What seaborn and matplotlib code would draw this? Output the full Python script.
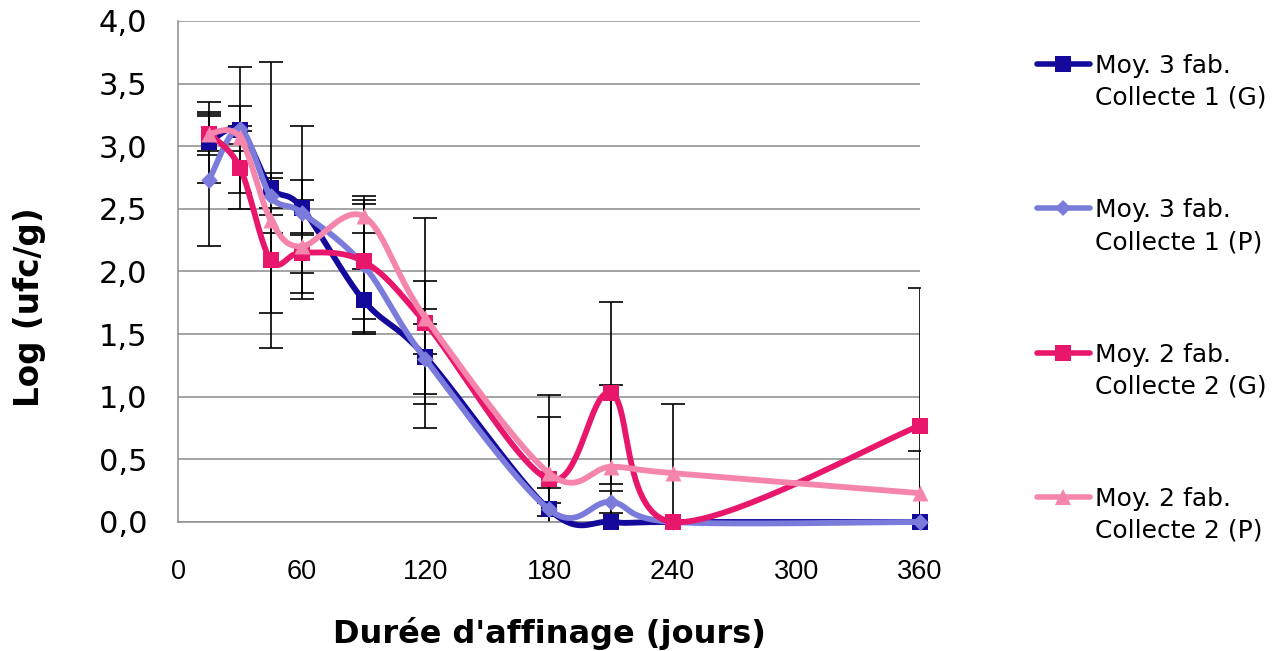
import numpy as np
import matplotlib
matplotlib.use("Agg")
import matplotlib.pyplot as plt
import seaborn as sns
from matplotlib.lines import Line2D
from matplotlib.ticker import FuncFormatter

# durée d'affinage (jours)
days = [15, 30, 45, 60, 90, 120, 180, 210, 240, 360]

# Log (ufc/g), moyennes et écarts-types
g1 = [3.03, 3.13, 2.67, 2.51, 1.77, 1.32, 0.10, 0.00, 0.00, 0.00]
g1_err = [0.32, 0.50, 1.00, 0.22, 0.25, 0.38, 0.17, 0.00, 0.00, 0.00]
p1 = [2.73, 3.14, 2.60, 2.47, 2.05, 1.30, 0.10, 0.16, 0.00, 0.00]
p1_err = [0.53, 0.18, 0.15, 0.69, 0.55, 0.28, 0.05, 0.09, 0.00, 0.00]
g2 = [3.10, 2.83, 2.09, 2.15, 2.08, 1.59, 0.34, 1.03, 0.00, 0.77]
g2_err = [0.17, 0.33, 0.70, 0.16, 0.46, 0.84, 0.50, 0.73, 0.00, 1.10]
p2 = [3.10, 3.07, 2.41, 2.20, 2.44, 1.63, 0.39, 0.44, 0.39, 0.23]
p2_err = [0.14, 0.05, 0.10, 0.37, 0.13, 0.29, 0.62, 0.65, 0.55, 0.34]

labels = [("Moy. 3 fab.", "Collecte 1 (G)"),
          ("Moy. 3 fab.", "Collecte 1 (P)"),
          ("Moy. 2 fab.", "Collecte 2 (G)"),
          ("Moy. 2 fab.", "Collecte 2 (P)")]
colors = ["#15099c", "#7b7bdc", "#e8176b", "#f585ad"]
markers = ["s", "D", "s", "^"]
msizes = [11.5, 8.5, 11.5, 11.5]

series = [(g1, g1_err), (p1, p1_err), (g2, g2_err), (p2, p2_err)]


def excel_smooth(x, y, sx=742 / 360, sy=501 / 4, n=40):
    # courbe lissée façon Excel (Bézier / Catmull-Rom en coordonnées écran)
    P = np.column_stack([np.asarray(x, float) * sx, np.asarray(y, float) * sy])
    Pe = np.vstack([P[0], P, P[-1]])
    t = np.linspace(0, 1, n)[:, None]
    out = []
    for i in range(len(P) - 1):
        p0, a, b, p3 = Pe[i], Pe[i + 1], Pe[i + 2], Pe[i + 3]
        c1 = a + (b - p0) / 6
        c2 = b - (p3 - a) / 6
        seg = (1 - t) ** 3 * a + 3 * (1 - t) ** 2 * t * c1 + 3 * (1 - t) * t ** 2 * c2 + t ** 3 * b
        out.append(seg if i == 0 else seg[1:])
    out = np.vstack(out)
    return out[:, 0] / sx, out[:, 1] / sy


sns.set_style("white")
plt.rcParams["font.family"] = ["DejaVu Sans"]
plt.rcParams["text.color"] = "black"
plt.rcParams["xtick.color"] = "black"
plt.rcParams["ytick.color"] = "black"

fig = plt.figure(figsize=(12.79, 6.51), dpi=100)
ax = fig.add_axes([0.1392, 0.1982, 0.5801, 0.7696])

grey = "#8c8c8c"

# barres d'erreur
for vals, err in series:
    d = np.array(days)
    v = np.array(vals)
    e = np.array(err)
    m = e > 0
    ax.errorbar(d[m], v[m], yerr=e[m], fmt="none", ecolor="black",
                elinewidth=1.2, capsize=8.5, capthick=1.2, zorder=2)

# courbes + marqueurs
for i, (vals, err) in enumerate(series):
    xs, ys = excel_smooth(days, vals)
    sns.lineplot(x=xs, y=ys, ax=ax, color=colors[i], linewidth=4.2,
                 sort=False, estimator=None, zorder=3 + i * 0.1, clip_on=False)
    sns.scatterplot(x=days, y=vals, ax=ax, marker=markers[i], s=msizes[i] ** 2,
                    color=colors[i], linewidth=0, zorder=3.05 + i * 0.1, clip_on=False)

ax.set_xlim(0, 360)
ax.set_ylim(0, 4)
ax.set_xticks(range(0, 361, 60))
ax.set_yticks(np.arange(0, 4.01, 0.5))
ax.yaxis.set_major_formatter(FuncFormatter(lambda v, p: f"{v:.1f}".replace(".", ",")))
ax.tick_params(axis="both", length=0, colors="black")
ax.tick_params(axis="y", labelsize=22, pad=22)
ax.tick_params(axis="x", labelsize=19.5, pad=27)
for lab in ax.get_xticklabels():
    lab.set_family("Liberation Sans")
ax.yaxis.grid(True, color=grey, linewidth=1.1)
ax.xaxis.grid(False)
ax.set_axisbelow(True)
for s in ["top", "right"]:
    ax.spines[s].set_visible(False)
for s in ["left", "bottom"]:
    ax.spines[s].set_color(grey)
    ax.spines[s].set_linewidth(1.1)
ax.set_xlabel("")
ax.set_ylabel("")

W, H = 1279, 651
fig.text(549 / W, 1 - 634 / H, "Durée d'affinage (jours)", ha="center", va="center",
         fontsize=23, fontweight="bold", color="black")
fig.text(30 / W, 1 - 307 / H, "Log (ufc/g)", ha="center", va="center", rotation=90,
         fontsize=23.5, fontweight="bold", color="black")

# légende à droite
for i, (l1, l2) in enumerate(labels):
    y0 = 64 + i * 144.3
    fig.add_artist(Line2D([1037 / W, 1063 / W, 1090 / W], [1 - y0 / H] * 3,
                          transform=fig.transFigure, color=colors[i], linewidth=4,
                          solid_capstyle="round", marker=markers[i],
                          markersize=msizes[i] * 0.95, markevery=[1], markeredgewidth=0))
    fig.text(1095 / W, 1 - (y0 + 9) / H, l1, ha="left", va="baseline", fontsize=18, color="black")
    fig.text(1095 / W, 1 - (y0 + 41) / H, l2, ha="left", va="baseline", fontsize=18, color="black")

fig.savefig("out.png", dpi=100)
